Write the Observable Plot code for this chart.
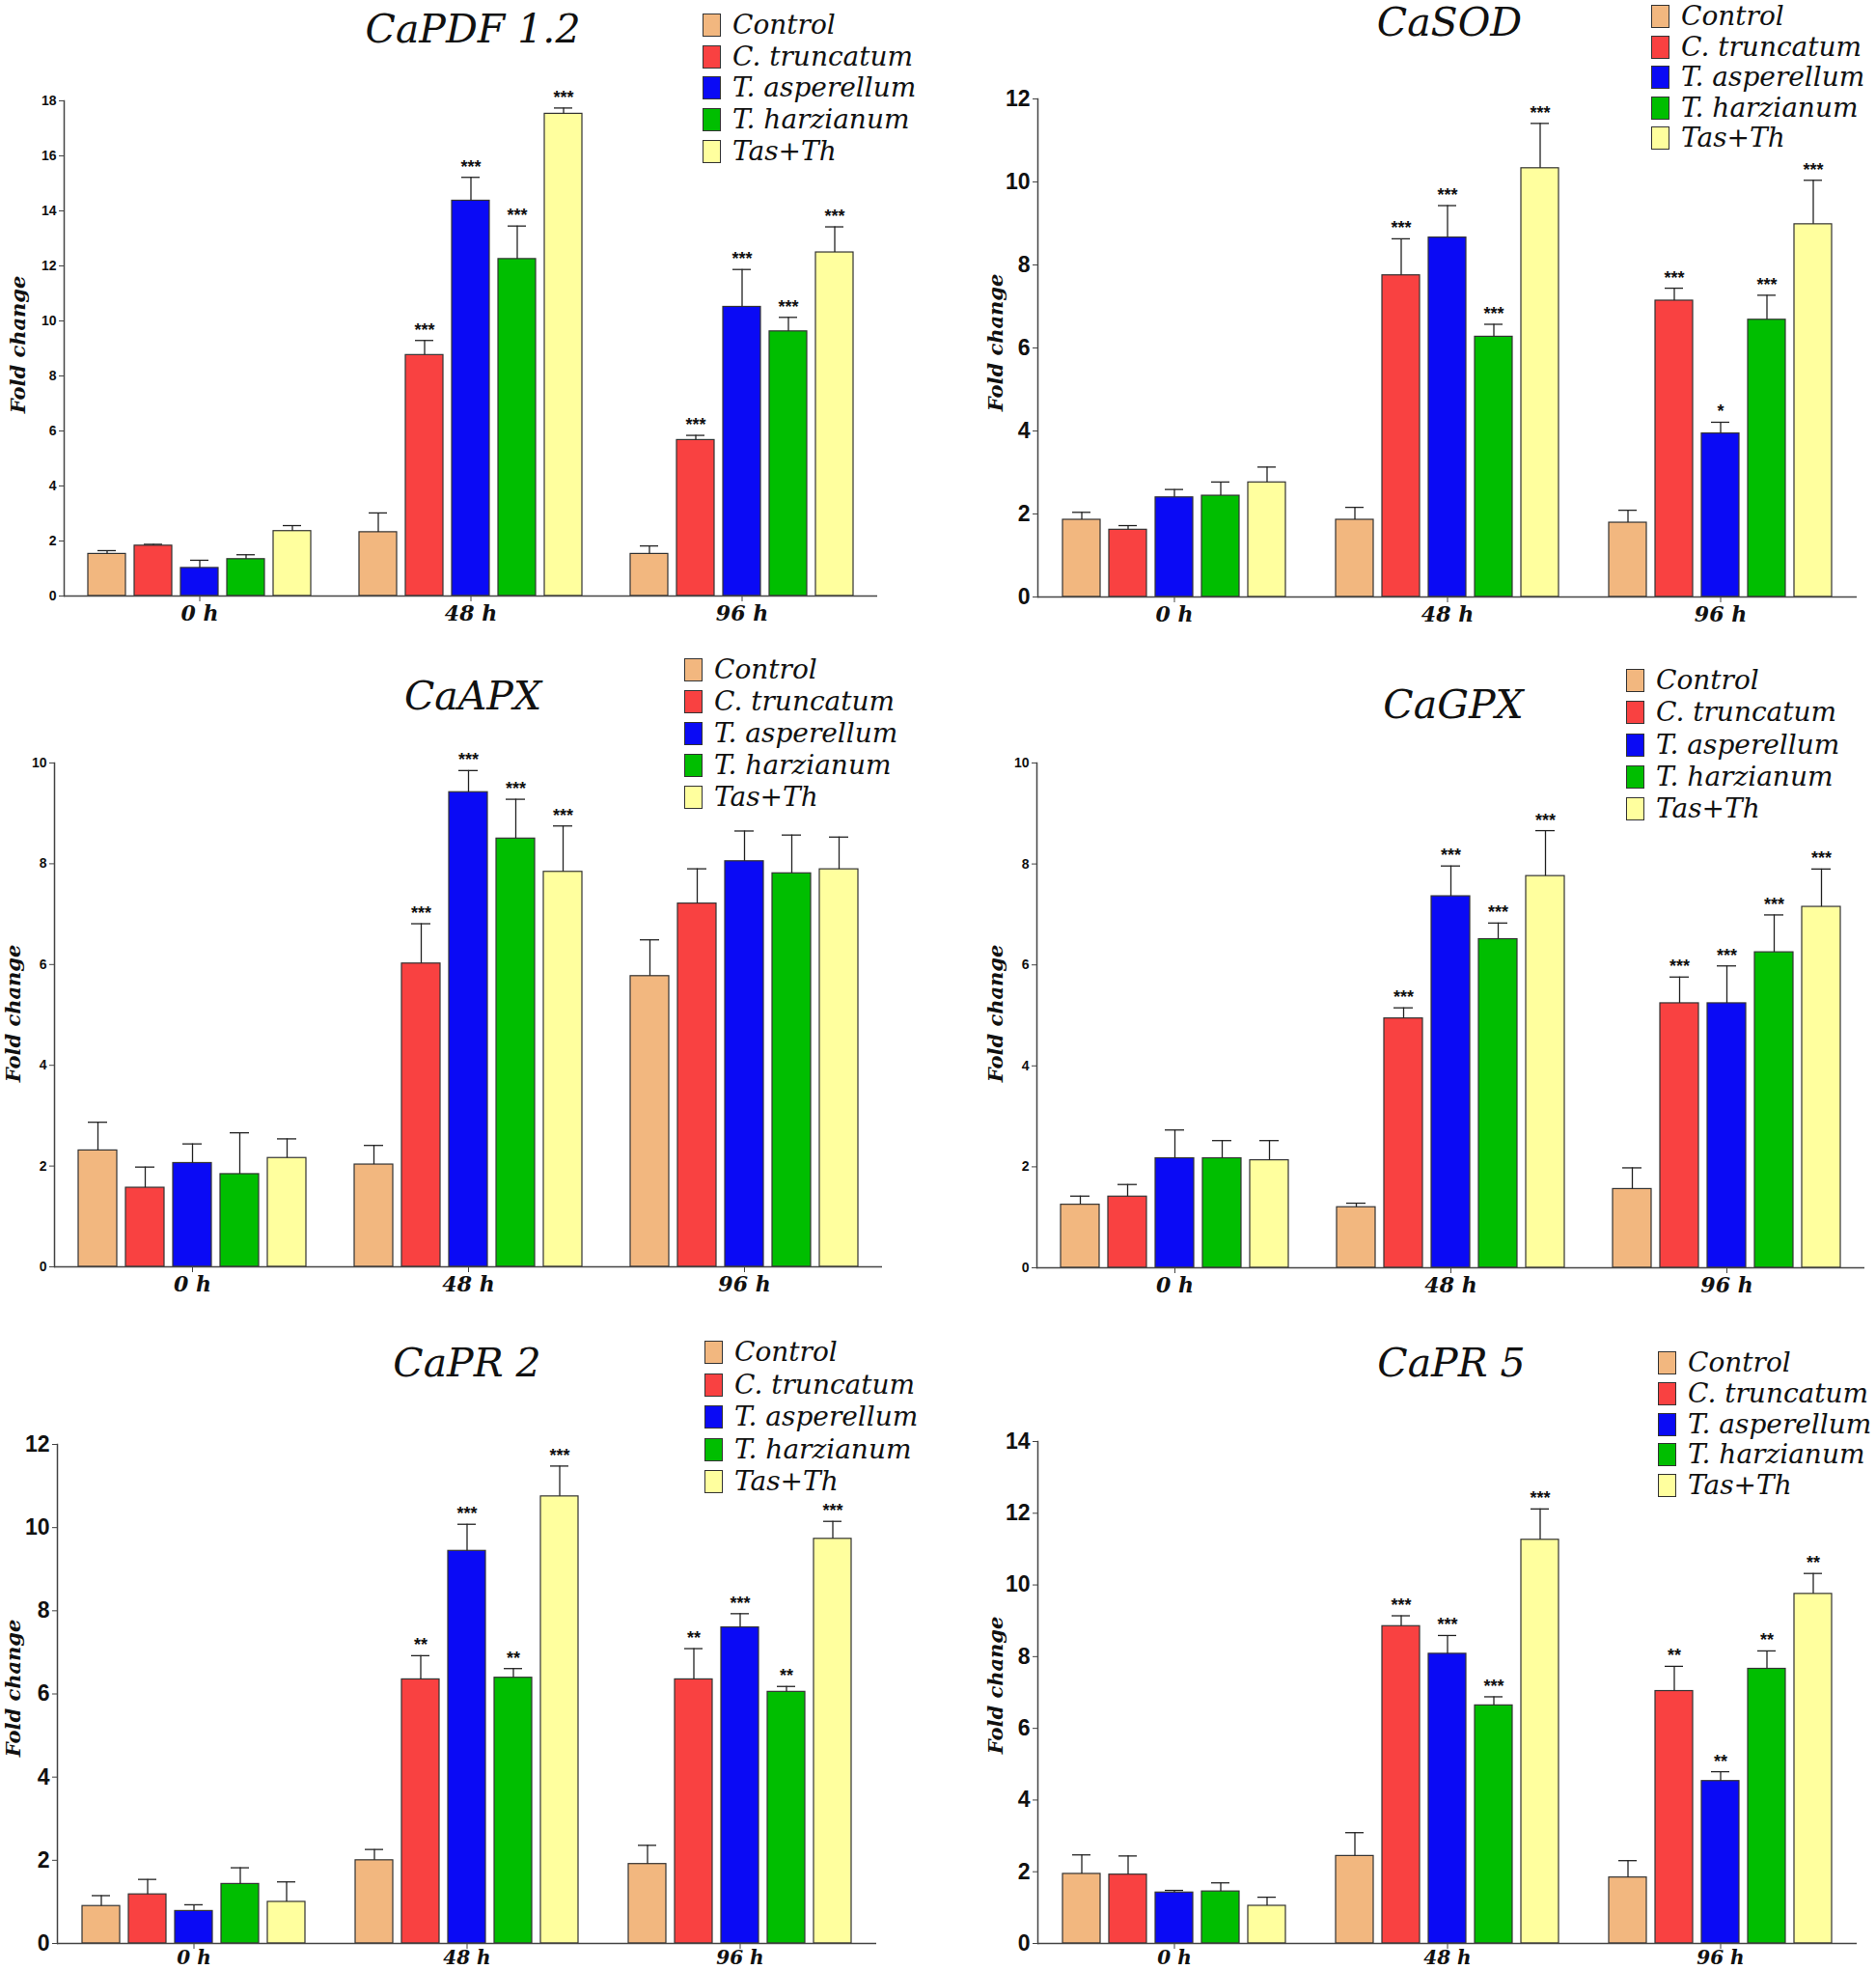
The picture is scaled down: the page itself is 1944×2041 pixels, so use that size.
<!DOCTYPE html>
<html><head><meta charset="utf-8">
<script src="https://cdn.jsdelivr.net/npm/d3@7"></script>
<script src="https://cdn.jsdelivr.net/npm/@observablehq/plot@0.6"></script>
<style>
html,body{margin:0;padding:0;background:#fff;overflow:hidden}
#root{position:relative;width:1944px;height:2041px;overflow:hidden;background:#fff}
.title{position:absolute;transform:translate(-50%,-50%);font-family:"DejaVu Serif",serif;font-style:italic;font-size:41px;line-height:1;white-space:nowrap;color:#111}
.ylab{position:absolute;transform:translate(-50%,-50%) rotate(-90deg);font-family:"DejaVu Serif",serif;font-style:italic;font-weight:bold;font-size:21px;line-height:1;white-space:nowrap;color:#111}
.legend{position:absolute}
.legend .row{display:flex;align-items:center}
.legend .sw{width:17px;height:22px;border:1.5px solid #333;margin-right:12px;flex:none}
.legend .lab{font-family:"DejaVu Serif",serif;font-style:italic;font-size:28px;line-height:1;white-space:nowrap;color:#111}
</style></head><body><div id="root"></div>
<script>
// ---------- data ----------
const times = ["0 h", "48 h", "96 h"];
const treatments = ["Control", "C. truncatum", "T. asperellum", "T. harzianum", "Tas+Th"];
const colors = ["#F2B77F", "#F94141", "#0A0AF5", "#00BE00", "#FFFF9E"];

const pdfMean = [[1.53, 1.83, 1.02, 1.34, 2.36], [2.32, 8.76, 14.37, 12.25, 17.53], [1.53, 5.67, 10.51, 9.62, 12.49]];
const pdfErr  = [[0.12, 0.05, 0.28, 0.16, 0.20], [0.70, 0.53, 0.85, 1.20, 0.21], [0.29, 0.17, 1.36, 0.51, 0.93]];
const pdfSig  = [["", "", "", "", ""], ["", "***", "***", "***", "***"], ["", "***", "***", "***", "***"]];

const sodMean = [[1.86, 1.62, 2.40, 2.44, 2.76], [1.86, 7.75, 8.66, 6.27, 10.33], [1.79, 7.14, 3.94, 6.68, 8.98]];
const sodErr  = [[0.18, 0.10, 0.19, 0.33, 0.37], [0.30, 0.88, 0.77, 0.30, 1.08], [0.30, 0.30, 0.27, 0.59, 1.06]];
const sodSig  = [["", "", "", "", ""], ["", "***", "***", "***", "***"], ["", "***", "*", "***", "***"]];

const apxMean = [[2.31, 1.57, 2.06, 1.84, 2.16], [2.03, 6.02, 9.42, 8.50, 7.84], [5.77, 7.21, 8.05, 7.81, 7.89]];
const apxErr  = [[0.56, 0.41, 0.38, 0.82, 0.38], [0.38, 0.79, 0.43, 0.78, 0.91], [0.72, 0.69, 0.60, 0.76, 0.64]];
const apxSig  = [["", "", "", "", ""], ["", "***", "***", "***", "***"], ["", "", "", "", ""]];

const gpxMean = [[1.25, 1.41, 2.17, 2.17, 2.13], [1.20, 4.94, 7.36, 6.51, 7.76], [1.56, 5.24, 5.24, 6.25, 7.15]];
const gpxErr  = [[0.17, 0.24, 0.56, 0.35, 0.39], [0.08, 0.21, 0.60, 0.32, 0.90], [0.42, 0.52, 0.74, 0.74, 0.75]];
const gpxSig  = [["", "", "", "", ""], ["", "***", "***", "***", "***"], ["", "***", "***", "***", "***"]];

const pr2Mean = [[0.90, 1.18, 0.78, 1.43, 1.00], [2.00, 6.35, 9.44, 6.39, 10.75], [1.91, 6.35, 7.60, 6.05, 9.73]];
const pr2Err  = [[0.25, 0.36, 0.15, 0.39, 0.48], [0.26, 0.57, 0.64, 0.22, 0.73], [0.45, 0.74, 0.33, 0.13, 0.42]];
const pr2Sig  = [["", "", "", "", ""], ["", "**", "***", "**", "***"], ["", "**", "***", "**", "***"]];

const pr5Mean = [[1.94, 1.92, 1.42, 1.45, 1.05], [2.44, 8.85, 8.08, 6.64, 11.26], [1.84, 7.04, 4.53, 7.66, 9.75]];
const pr5Err  = [[0.53, 0.52, 0.06, 0.24, 0.24], [0.65, 0.29, 0.51, 0.24, 0.86], [0.47, 0.69, 0.26, 0.50, 0.57]];
const pr5Sig  = [["", "", "", "", ""], ["", "***", "***", "***", "***"], ["", "**", "**", "**", "**"]];

const titles = ["CaPDF 1.2", "CaSOD", "CaAPX", "CaGPX", "CaPR 2", "CaPR 5"];
const yMax = [18, 12, 10, 10, 12, 14];
const yLabel = "Fold change";

// ---------- layout ----------
const panels = [
  {title: titles[0], mean: pdfMean, err: pdfErr, sig: pdfSig, ymax: yMax[0], box: [65, 910, 104, 617],   tick: 14, fxFont: 22, fxPad: 4, tpos: [490, 30],    leg: [728, 26, 32.7],    ylab: [18, 357]},
  {title: titles[1], mean: sodMean, err: sodErr, sig: sodSig, ymax: yMax[1], box: [1074, 1924, 102, 618], tick: 23, fxFont: 22, fxPad: 4, tpos: [1502, 23],   leg: [1711, 17, 31.5],   ylab: [1031, 355]},
  {title: titles[2], mean: apxMean, err: apxErr, sig: apxSig, ymax: yMax[2], box: [56, 914, 790, 1312],   tick: 14, fxFont: 22, fxPad: 4, tpos: [490, 721],   leg: [709, 694, 33],     ylab: [13, 1050]},
  {title: titles[3], mean: gpxMean, err: gpxErr, sig: gpxSig, ymax: yMax[3], box: [1074, 1932, 790, 1313],tick: 14, fxFont: 22, fxPad: 4, tpos: [1506, 730],  leg: [1685, 705, 33.3],  ylab: [1031, 1050]},
  {title: titles[4], mean: pr2Mean, err: pr2Err, sig: pr2Sig, ymax: yMax[4], box: [58, 908, 1496, 2013],  tick: 23, fxFont: 20, fxPad: 1, tpos: [484, 1412],  leg: [730, 1401, 33.5],  ylab: [13, 1749]},
  {title: titles[5], mean: pr5Mean, err: pr5Err, sig: pr5Sig, ymax: yMax[5], box: [1074, 1925, 1493, 2013],tick: 23, fxFont: 20, fxPad: 1, tpos: [1504, 1412], leg: [1718, 1412, 31.8], ylab: [1031, 1746]}
];

const root = document.getElementById("root");

function drawPanel(p) {
  const rows = [];
  times.forEach((t, i) => treatments.forEach((tr, j) => {
    rows.push({time: t, treat: tr, mean: p.mean[i][j], hi: p.mean[i][j] + p.err[i][j], sig: p.sig[i][j]});
  }));
  const [L, R, T, B] = p.box;
  const ML = 60, MR = 12, MT = 30, MB = 50;
  const chart = Plot.plot({
    width: R - L + ML + MR,
    height: B - T + MT + MB,
    marginLeft: ML, marginRight: MR, marginTop: MT, marginBottom: MB,
    style: {background: "transparent", overflow: "visible"},
    fx: {domain: times, padding: 0, label: null, axis: null},
    x: {domain: treatments, paddingInner: 0.18, paddingOuter: 0.5, axis: null},
    y: {domain: [0, p.ymax], axis: null},
    color: {domain: treatments, range: colors},
    marks: [
      Plot.barY(rows, {fx: "time", x: "treat", y: "mean", fill: "treat", stroke: "#333", strokeWidth: 1.2}),
      Plot.ruleX(rows, {fx: "time", x: "treat", y1: "mean", y2: "hi", stroke: "#222", strokeWidth: 1.3}),
      Plot.tickY(rows, {fx: "time", x: "treat", y: "hi", stroke: "#222", strokeWidth: 1.3, insetLeft: 10, insetRight: 10}),
      Plot.text(rows.filter(d => d.sig), {fx: "time", x: "treat", y: "hi", text: "sig", dy: -5, lineAnchor: "bottom",
        fontSize: 18, fontWeight: "bold", fill: "#111", fontFamily: "Liberation Sans, Arial, sans-serif"}),
      Plot.ruleY([0], {stroke: "#444", strokeWidth: 1.5}),
      Plot.frame({anchor: "left", facetAnchor: "left", stroke: "#444", strokeWidth: 1.5}),
      Plot.axisY({ticks: d3.range(0, p.ymax + 0.001, 2), tickSize: 5, tickPadding: 3, fontSize: p.tick,
        fontWeight: "bold", fontFamily: "Liberation Sans Narrow, Liberation Sans, Arial, sans-serif",
        stroke: "#444", fill: "#111", label: null}),
      Plot.axisFx({anchor: "bottom", tickSize: 6, tickPadding: p.fxPad, fontSize: p.fxFont, fontWeight: "bold", fontStyle: "italic",
        fontFamily: "DejaVu Serif, serif", stroke: "#444", fill: "#111", label: null})
    ]
  });
  chart.style.position = "absolute";
  chart.style.left = (L - ML) + "px";
  chart.style.top = (T - MT) + "px";
  chart.style.maxWidth = "none";
  root.appendChild(chart);

  const t = document.createElement("div");
  t.className = "title";
  t.textContent = p.title;
  t.style.left = p.tpos[0] + "px";
  t.style.top = p.tpos[1] + "px";
  root.appendChild(t);

  const yl = document.createElement("div");
  yl.className = "ylab";
  yl.textContent = yLabel;
  yl.style.left = p.ylab[0] + "px";
  yl.style.top = p.ylab[1] + "px";
  root.appendChild(yl);

  const lg = document.createElement("div");
  lg.className = "legend";
  const [lx, ly, sp] = p.leg;
  lg.style.left = lx + "px";
  lg.style.top = (ly - sp / 2) + "px";
  treatments.forEach((tr, j) => {
    const row = document.createElement("div");
    row.className = "row";
    row.style.height = sp + "px";
    const sw = document.createElement("div");
    sw.className = "sw";
    sw.style.background = colors[j];
    const lab = document.createElement("span");
    lab.className = "lab";
    lab.textContent = tr;
    row.appendChild(sw);
    row.appendChild(lab);
    lg.appendChild(row);
  });
  root.appendChild(lg);
}

panels.forEach(drawPanel);
</script>
</body></html>
